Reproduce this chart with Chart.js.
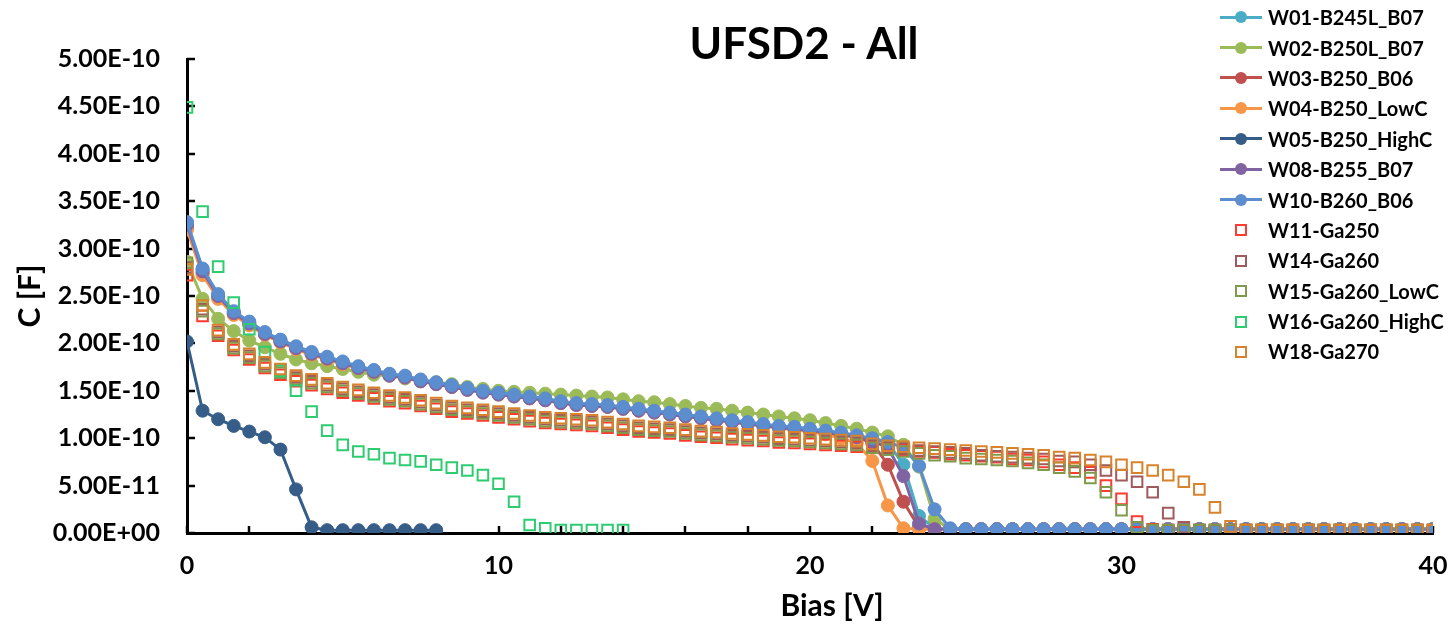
<!DOCTYPE html>
<html>
<head>
<meta charset="utf-8">
<script src="https://cdn.jsdelivr.net/npm/chart.js@4/dist/chart.umd.min.js"></script>
<style>
  html, body { margin: 0; padding: 0; background: #fff; }
  .wrap { position: relative; width: 1451px; height: 631px; font-family: Lato, "Open Sans", sans-serif; font-weight: 700; color: #000; }
  .title { position: absolute; left: 604px; width: 400px; top: 17px; text-align: center; font-size: 44px; line-height: 50px; }
  .xtitle { position: absolute; left: 732px; width: 200px; top: 586px; text-align: center; font-size: 30px; line-height: 36px; }
  .legend { position: absolute; left: 1220px; top: 2px; }
  .legend .row { height: 30.4px; display: flex; align-items: center; font-size: 20px; white-space: nowrap; }
  .legend .sym { position: relative; width: 48px; height: 30px; }
  .legend .ln { position: absolute; left: 0; width: 42px; top: 13.5px; height: 3px; }
  .legend .dot { position: absolute; left: 15px; top: 9px; width: 12px; height: 12px; border-radius: 50%; }
  .legend .sq { position: absolute; left: 15px; top: 9.5px; width: 8px; height: 8px; border: 2px solid; }
</style>
</head>
<body>
<div class="wrap">
  <canvas id="c" width="1451" height="631"></canvas>
  <div class="title">UFSD2 - All</div>
  <div class="xtitle">Bias [V]</div>
  <div class="legend" id="legend"></div>
</div>
<script>
"use strict";

// bias in V, capacitance in units of 1e-10 F
const bias = [0, 0.5, 1, 1.5, 2, 2.5, 3, 3.5, 4, 4.5, 5, 5.5, 6, 6.5, 7, 7.5, 8, 8.5, 9, 9.5,
    10, 10.5, 11, 11.5, 12, 12.5, 13, 13.5, 14, 14.5, 15, 15.5, 16, 16.5, 17, 17.5, 18, 18.5, 19, 19.5,
    20, 20.5, 21, 21.5, 22, 22.5, 23, 23.5, 24, 24.5, 25, 25.5, 26, 26.5, 27, 27.5, 28, 28.5, 29, 29.5,
    30, 30.5, 31, 31.5, 32, 32.5, 33, 33.5, 34, 34.5, 35, 35.5, 36, 36.5, 37, 37.5, 38, 38.5, 39, 39.5, 40];

const names = ["W01-B245L_B07", "W02-B250L_B07", "W03-B250_B06", "W04-B250_LowC", "W05-B250_HighC",
    "W08-B255_B07", "W10-B260_B06", "W11-Ga250", "W14-Ga260", "W15-Ga260_LowC", "W16-Ga260_HighC", "W18-Ga270"];

const colors = ["#4bacc6", "#9bbb59", "#c0504d", "#f79646", "#355d88",
    "#8064a2", "#5b8dcf", "#ff3b30", "#a05a5c", "#7f9a4a", "#2ecc71", "#d8822c"];

const w01 = [3.27, 2.78, 2.51, 2.33, 2.22, 2.11, 2.03, 1.96, 1.90, 1.85, 1.80, 1.75, 1.71, 1.67, 1.65, 1.61, 1.58, 1.55, 1.52, 1.49, 1.47,
    1.45, 1.43, 1.41, 1.38, 1.36, 1.35, 1.34, 1.32, 1.30, 1.28, 1.26, 1.24, 1.22, 1.20, 1.18, 1.16, 1.14, 1.12, 1.11, 1.09,
    1.07, 1.05, 1.02, 0.99, 0.95, 0.72, 0.18, 0.05, 0.04, 0.04,
    0.04, 0.04, 0.04, 0.04, 0.04, 0.04, 0.04, 0.04, 0.04, 0.04, 0.04, 0.04, 0.04, 0.04, 0.04,
    0.04, 0.04, 0.04, 0.04, 0.04, 0.04, 0.04, 0.04, 0.04, 0.04, 0.04, 0.04, 0.04, 0.04, 0.04];
const w02 = [2.86, 2.47, 2.26, 2.13, 2.03, 1.96, 1.89, 1.83, 1.79, 1.76, 1.73, 1.70, 1.67, 1.66, 1.63, 1.61, 1.59, 1.57, 1.54, 1.52, 1.50,
    1.49, 1.48, 1.47, 1.46, 1.45, 1.44, 1.43, 1.41, 1.39, 1.38, 1.36, 1.34, 1.32, 1.31, 1.29, 1.27, 1.25, 1.23, 1.21, 1.19,
    1.16, 1.13, 1.10, 1.06, 1.02, 0.93, 0.70, 0.15, 0.04, 0.04,
    0.04, 0.04, 0.04, 0.04, 0.04, 0.04, 0.04, 0.04, 0.04, 0.04, 0.04, 0.04, 0.04, 0.04, 0.04,
    0.04, 0.04, 0.04, 0.04, 0.04, 0.04, 0.04, 0.04, 0.04, 0.04, 0.04, 0.04, 0.04, 0.04, 0.04];
const w03 = [3.22, 2.74, 2.49, 2.31, 2.20, 2.10, 2.02, 1.95, 1.89, 1.84, 1.79, 1.75, 1.71, 1.67, 1.65, 1.61, 1.58, 1.55, 1.52, 1.49, 1.47,
    1.45, 1.43, 1.41, 1.38, 1.36, 1.35, 1.34, 1.32, 1.30, 1.28, 1.26, 1.24, 1.22, 1.20, 1.18, 1.16, 1.14, 1.12, 1.10, 1.08,
    1.06, 1.04, 1.01, 0.95, 0.72, 0.33, 0.06, 0.04, 0.04, 0.04,
    0.04, 0.04, 0.04, 0.04, 0.04, 0.04, 0.04, 0.04, 0.04, 0.04, 0.04, 0.04, 0.04, 0.04, 0.04,
    0.04, 0.04, 0.04, 0.04, 0.04, 0.04, 0.04, 0.04, 0.04, 0.04, 0.04, 0.04, 0.04, 0.04, 0.04];
const w04 = [3.20, 2.72, 2.47, 2.30, 2.19, 2.09, 2.01, 1.94, 1.88, 1.83, 1.78, 1.74, 1.70, 1.66, 1.64, 1.60, 1.57, 1.54, 1.51, 1.49, 1.46,
    1.44, 1.42, 1.40, 1.37, 1.35, 1.34, 1.33, 1.31, 1.29, 1.27, 1.25, 1.23, 1.21, 1.19, 1.17, 1.15, 1.13, 1.11, 1.09, 1.07,
    1.04, 1.00, 0.95, 0.76, 0.29, 0.05, 0.04, 0.04, 0.04, 0.04,
    0.04, 0.04, 0.04, 0.04, 0.04, 0.04, 0.04, 0.04, 0.04, 0.04, 0.04, 0.04, 0.04, 0.04, 0.04,
    0.04, 0.04, 0.04, 0.04, 0.04, 0.04, 0.04, 0.04, 0.04, 0.04, 0.04, 0.04, 0.04, 0.04, 0.04];
// W05 stops at 8 V
const w05 = [2.02, 1.29, 1.20, 1.13, 1.07, 1.01, 0.88, 0.46, 0.06, 0.03, 0.03, 0.03, 0.03, 0.03, 0.03, 0.03, 0.03];
const w08 = [3.25, 2.76, 2.50, 2.32, 2.21, 2.10, 2.02, 1.95, 1.89, 1.84, 1.79, 1.74, 1.70, 1.66, 1.64, 1.60, 1.57, 1.54, 1.51, 1.48, 1.46,
    1.44, 1.42, 1.40, 1.37, 1.35, 1.34, 1.33, 1.31, 1.29, 1.27, 1.25, 1.23, 1.21, 1.19, 1.17, 1.15, 1.13, 1.11, 1.10, 1.08,
    1.06, 1.04, 1.01, 0.97, 0.90, 0.60, 0.10, 0.04, 0.04, 0.04,
    0.04, 0.04, 0.04, 0.04, 0.04, 0.04, 0.04, 0.04, 0.04, 0.04, 0.04, 0.04, 0.04, 0.04, 0.04,
    0.04, 0.04, 0.04, 0.04, 0.04, 0.04, 0.04, 0.04, 0.04, 0.04, 0.04, 0.04, 0.04, 0.04, 0.04];
const w10 = [3.28, 2.79, 2.52, 2.34, 2.23, 2.12, 2.04, 1.97, 1.91, 1.86, 1.81, 1.76, 1.72, 1.68, 1.66, 1.62, 1.59, 1.56, 1.53, 1.50, 1.48,
    1.46, 1.44, 1.42, 1.39, 1.37, 1.36, 1.35, 1.33, 1.31, 1.29, 1.27, 1.25, 1.23, 1.21, 1.19, 1.17, 1.15, 1.13, 1.12, 1.10,
    1.08, 1.06, 1.03, 1.00, 0.96, 0.90, 0.71, 0.25, 0.05, 0.04,
    0.04, 0.04, 0.04, 0.04, 0.04, 0.04, 0.04, 0.04, 0.04, 0.04, 0.04, 0.04, 0.04, 0.04, 0.04,
    0.04, 0.04, 0.04, 0.04, 0.04, 0.04, 0.04, 0.04, 0.04, 0.04, 0.04, 0.04, 0.04, 0.04, 0.04];
const w11 = [2.72, 2.29, 2.08, 1.93, 1.83, 1.74, 1.67, 1.60, 1.56, 1.52, 1.48, 1.45, 1.42, 1.39, 1.37, 1.34, 1.31, 1.28, 1.26, 1.24, 1.22,
    1.20, 1.18, 1.16, 1.15, 1.14, 1.13, 1.11, 1.09, 1.07, 1.06, 1.05, 1.03, 1.015, 1.005, 0.99, 0.98, 0.97, 0.955, 0.95, 0.94,
    0.93, 0.92, 0.91, 0.91, 0.89, 0.88, 0.86, 0.85, 0.83, 0.82,
    0.81, 0.80, 0.78, 0.77, 0.75, 0.72, 0.69, 0.64, 0.50, 0.36, 0.12, 0.04, 0.03, 0.03, 0.03,
    0.03, 0.03, 0.03, 0.03, 0.03, 0.03, 0.03, 0.03, 0.03, 0.03, 0.03, 0.03, 0.03, 0.03, 0.03];
const w14 = [2.80, 2.36, 2.12, 1.97, 1.87, 1.78, 1.71, 1.64, 1.60, 1.56, 1.52, 1.49, 1.46, 1.43, 1.41, 1.38, 1.35, 1.32, 1.30, 1.28, 1.26,
    1.24, 1.22, 1.20, 1.19, 1.18, 1.17, 1.15, 1.13, 1.11, 1.10, 1.09, 1.07, 1.055, 1.045, 1.03, 1.02, 1.01, 0.995, 0.99, 0.98,
    0.97, 0.96, 0.95, 0.92, 0.90, 0.89, 0.87, 0.86, 0.85, 0.84,
    0.82, 0.81, 0.80, 0.79, 0.78, 0.76, 0.75, 0.72, 0.66, 0.61, 0.54, 0.43, 0.21, 0.06, 0.03,
    0.03, 0.03, 0.03, 0.03, 0.03, 0.03, 0.03, 0.03, 0.03, 0.03, 0.03, 0.03, 0.03, 0.03, 0.03];
const w15 = [2.85, 2.34, 2.10, 1.95, 1.85, 1.76, 1.69, 1.62, 1.58, 1.54, 1.50, 1.47, 1.44, 1.41, 1.39, 1.36, 1.33, 1.30, 1.28, 1.26, 1.24,
    1.22, 1.20, 1.18, 1.17, 1.16, 1.15, 1.13, 1.11, 1.09, 1.08, 1.07, 1.05, 1.035, 1.025, 1.01, 1.00, 0.99, 0.975, 0.97, 0.96,
    0.95, 0.94, 0.93, 0.90, 0.88, 0.86, 0.84, 0.82, 0.81, 0.79,
    0.78, 0.77, 0.76, 0.74, 0.72, 0.69, 0.65, 0.58, 0.43, 0.24, 0.06, 0.03, 0.03, 0.03, 0.03,
    0.03, 0.03, 0.03, 0.03, 0.03, 0.03, 0.03, 0.03, 0.03, 0.03, 0.03, 0.03, 0.03, 0.03, 0.03];
// W16 stops at 14 V
const w16 = [4.49, 3.39, 2.81, 2.43, 2.15, 1.91, 1.71, 1.50, 1.28, 1.08, 0.93, 0.86, 0.83, 0.79, 0.77, 0.755, 0.72, 0.69, 0.66, 0.61,
    0.52, 0.33, 0.085, 0.05, 0.03, 0.03, 0.03, 0.03, 0.03];
const w18 = [2.78, 2.40, 2.14, 1.99, 1.89, 1.80, 1.73, 1.66, 1.62, 1.58, 1.54, 1.51, 1.48, 1.45, 1.43, 1.40, 1.37, 1.34, 1.32, 1.30, 1.28,
    1.26, 1.24, 1.22, 1.21, 1.20, 1.19, 1.17, 1.15, 1.13, 1.12, 1.11, 1.09, 1.075, 1.065, 1.05, 1.04, 1.03, 1.015, 1.01, 1.00,
    0.99, 0.98, 0.97, 0.94, 0.92, 0.91, 0.90, 0.89, 0.88, 0.87,
    0.86, 0.85, 0.84, 0.83, 0.82, 0.80, 0.79, 0.77, 0.75, 0.72, 0.69, 0.66, 0.61, 0.54, 0.46,
    0.27, 0.07, 0.03, 0.03, 0.03, 0.03, 0.03, 0.03, 0.03, 0.03, 0.03, 0.03, 0.03, 0.03, 0.03];

const series = [w01, w02, w03, w04, w05, w08, w10, w11, w14, w15, w16, w18];
const hasLine = [true, true, true, true, true, true, true, false, false, false, false, false];

const datasets = series.map((vals, i) => ({
    label: names[i],
    data: vals.map((v, k) => ({ x: bias[k], y: v })),
    borderColor: colors[i],
    backgroundColor: hasLine[i] ? colors[i] : "rgba(0,0,0,0)",
    showLine: hasLine[i],
    borderWidth: 3,
    pointStyle: hasLine[i] ? "circle" : "rect",
    pointRadius: hasLine[i] ? 6.5 : 7.5,
    pointBorderWidth: hasLine[i] ? 1 : 2,
    pointBorderColor: colors[i],
    pointBackgroundColor: hasLine[i] ? colors[i] : "rgba(0,0,0,0)",
    order: series.length - i
}));

const inwardTicks = {
    id: "inwardTicks",
    beforeDatasetsDraw(chart) {
        const { ctx, chartArea, scales: { x, y } } = chart;
        ctx.save();
        ctx.strokeStyle = "#000";
        ctx.lineWidth = 2.5;
        y.ticks.forEach(t => {
            const py = Math.round(y.getPixelForValue(t.value));
            ctx.beginPath();
            ctx.moveTo(chartArea.left, py);
            ctx.lineTo(chartArea.left + 8, py);
            ctx.stroke();
        });
        x.ticks.forEach(t => {
            const px = Math.round(x.getPixelForValue(t.value));
            ctx.beginPath();
            ctx.moveTo(px, chartArea.bottom);
            ctx.lineTo(px, chartArea.bottom - 7);
            ctx.stroke();
        });
        ctx.restore();
    }
};

function sciLabel(v) {
    if (Math.abs(v) < 1e-9) return "0.00E+00";
    const s = (v * 1e-10).toExponential(2).toUpperCase();
    const m = s.match(/^(.*)E([+-])(\d+)$/);
    return m[1] + "E" + m[2] + m[3].padStart(2, "0");
}

const tickFont = { family: "Lato", size: 25, weight: "bold" };

new Chart(document.getElementById("c"), {
    type: "scatter",
    data: { datasets: datasets },
    options: {
        responsive: false,
        animation: false,
        layout: { padding: { left: 0, right: 18, top: 59, bottom: 0 } },
        plugins: { legend: { display: false }, tooltip: { enabled: false } },
        scales: {
            x: {
                type: "linear",
                min: 0,
                max: 40,
                afterFit(scale) { scale.height = 98; },
                // grid hidden; tickLength only spaces the labels down
                grid: { display: false, drawTicks: true, tickLength: 18 },
                border: { display: true, color: "#000", width: 3 },
                ticks: {
                    stepSize: 2,
                    autoSkip: false,
                    maxRotation: 0,
                    padding: 0,
                    color: "#000",
                    font: tickFont,
                    callback: v => (v % 10 === 0 ? String(v) : "")
                }
            },
            y: {
                type: "linear",
                min: 0,
                max: 5,
                afterFit(scale) { scale.width = 187; },
                grid: { display: false, drawTicks: false },
                border: { display: true, color: "#000", width: 3 },
                ticks: {
                    stepSize: 0.5,
                    padding: 27,
                    color: "#000",
                    font: tickFont,
                    callback: v => sciLabel(v)
                },
                title: {
                    display: true,
                    text: "C [F]",
                    color: "#000",
                    font: { family: "Lato", size: 30, weight: "bold" },
                    padding: { top: 12, bottom: 0 }
                }
            }
        }
    },
    plugins: [inwardTicks]
});

// legend
const legend = document.getElementById("legend");
names.forEach((n, i) => {
    const row = document.createElement("div");
    row.className = "row";
    const sym = document.createElement("div");
    sym.className = "sym";
    if (hasLine[i]) {
        sym.innerHTML = `<div class="ln" style="background:${colors[i]}"></div><div class="dot" style="background:${colors[i]}"></div>`;
    } else {
        sym.innerHTML = `<div class="sq" style="border-color:${colors[i]}"></div>`;
    }
    row.appendChild(sym);
    const txt = document.createElement("span");
    txt.textContent = n;
    row.appendChild(txt);
    legend.appendChild(row);
});
</script>
</body>
</html>
